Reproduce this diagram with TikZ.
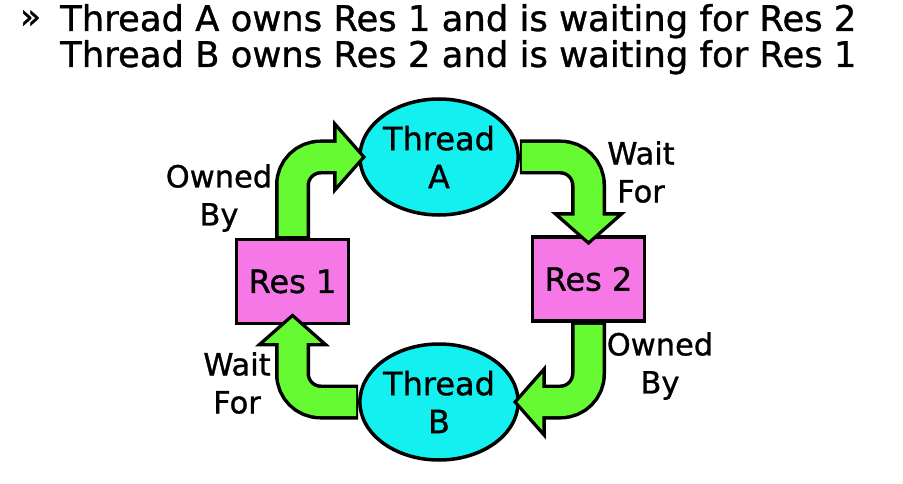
\documentclass[tikz,border=0pt]{standalone}
\usepackage{fontspec}
\setmainfont{DejaVu Sans}[FakeBold=1]
\usetikzlibrary{arrows.meta,shapes.geometric,calc}
\definecolor{thrcyan}{RGB}{20,240,240}
\definecolor{respink}{RGB}{245,120,230}
\definecolor{arrgreen}{RGB}{102,250,51}
\tikzset{
  thread/.style={ellipse, draw=black, line width=3.5pt, fill=thrcyan, minimum width=127pt, minimum height=116pt, inner sep=0pt, align=center, font=\fontsize{32}{38}\selectfont},
  resbox/.style={rectangle, draw=black, line width=3.5pt, fill=respink, minimum width=112pt, minimum height=84pt, inner sep=0pt, font=\fontsize{32}{38}\selectfont},
  lbl/.style={align=center, inner sep=0pt, font=\fontsize{30.5}{38}\selectfont},
  ttl/.style={anchor=base west, inner sep=0pt, font=\fontsize{35.4}{33}\selectfont},
  blkarrow/.style={draw=black, line width=35pt, rounded corners=28pt, -{Triangle[width=73pt,length=33pt]}},
  grnarrow/.style={draw=arrgreen, line width=28pt, rounded corners=28pt, -{Triangle[width=55pt,length=25pt]}, shorten >=4.5pt, shorten <=2pt}
}
\begin{document}
\begin{tikzpicture}[x=1pt,y=-1pt]
\useasboundingbox[fill=white] (0,0) rectangle (903,484);
% title
\node[ttl, font=\fontsize{34}{34}\selectfont] (bul) at (20,28) {»};
\node[ttl] (line1) at (60,31) {Thread A owns Res 1 and is waiting for Res 2};
\node[ttl] (line2) at (60,67) {Thread B owns Res 2 and is waiting for Res 1};
% nodes
\node[thread] (TA) at (439,157) {Thread\\A};
\node[thread] (TB) at (439,402) {Thread\\B};
\node[resbox] (R1) at (292.5,281.5) {Res 1};
\node[resbox] (R2) at (588.5,279) {Res 2};
% labels
\node[lbl] (ob1) at (219,198) {Owned\\By};
\node[lbl] (wf1) at (641,172) {Wait\\For};
\node[lbl] (ob2) at (660,366) {Owned\\By};
\node[lbl] (wf2) at (237,383) {Wait\\For};
% arrows
\foreach \sty in {blkarrow,grnarrow}{
  \draw[\sty] (R1.north) -- (R1.north |- TA.west) -- ([xshift=8pt]TA.west);
  \draw[\sty] (TA.east) -- (TA.east -| R2.north) -- ([yshift=-10pt]R2.north);
  \draw[\sty] (R2.south) -- (R2.south |- TB.east) -- ([xshift=-7pt]TB.east);
  \draw[\sty] (TB.west) -- (TB.west -| R1.south) -- ([yshift=12pt]R1.south);
}
\end{tikzpicture}
\end{document}
